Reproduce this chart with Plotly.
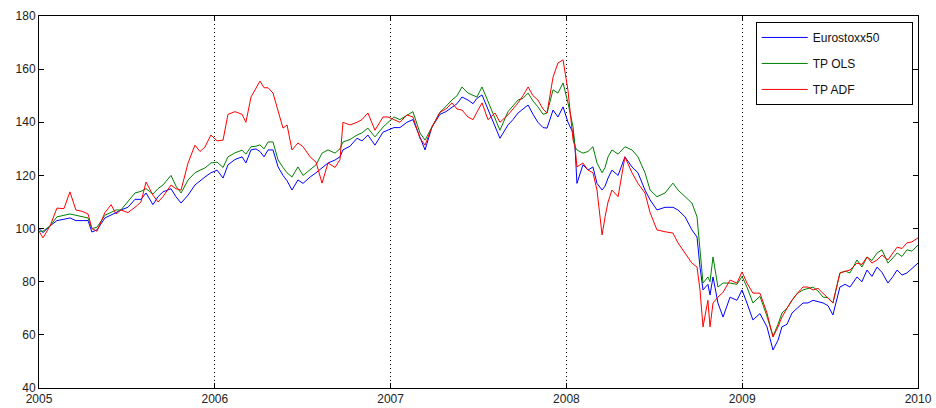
import plotly.graph_objects as go

# Time axis in decimal years
t = [2005.000, 2005.023, 2005.063, 2005.102, 2005.142, 2005.176, 2005.210, 2005.245, 2005.279, 2005.301,
     2005.330, 2005.375, 2005.410, 2005.438, 2005.466, 2005.506, 2005.546, 2005.580, 2005.609, 2005.648,
     2005.677, 2005.705, 2005.751, 2005.779, 2005.808, 2005.848, 2005.887, 2005.916, 2005.944, 2005.978,
     2006.013, 2006.047, 2006.075, 2006.115, 2006.155, 2006.177, 2006.206, 2006.234, 2006.257, 2006.280,
     2006.303, 2006.331, 2006.360, 2006.388, 2006.411, 2006.439, 2006.473, 2006.502, 2006.542, 2006.576,
     2006.610, 2006.644, 2006.684, 2006.712, 2006.729, 2006.769, 2006.809, 2006.837, 2006.871, 2006.911,
     2006.957, 2006.985, 2007.019, 2007.053, 2007.093, 2007.127, 2007.167, 2007.196, 2007.235, 2007.281,
     2007.315, 2007.349, 2007.378, 2007.406, 2007.440, 2007.469, 2007.491, 2007.520, 2007.554, 2007.594,
     2007.622, 2007.668, 2007.696, 2007.725, 2007.753, 2007.782, 2007.810, 2007.838, 2007.867, 2007.890,
     2007.924, 2007.952, 2007.981, 2008.009, 2008.038, 2008.049, 2008.060, 2008.094, 2008.123, 2008.151,
     2008.174, 2008.203, 2008.220, 2008.237, 2008.259, 2008.294, 2008.333, 2008.373, 2008.407, 2008.447,
     2008.476, 2008.515, 2008.561, 2008.606, 2008.635, 2008.675, 2008.714, 2008.743, 2008.760, 2008.777,
     2008.805, 2008.817, 2008.834, 2008.862, 2008.891, 2008.931, 2008.970, 2008.999, 2009.027, 2009.061,
     2009.101, 2009.141, 2009.175, 2009.204, 2009.226, 2009.255, 2009.283, 2009.312, 2009.346, 2009.374,
     2009.403, 2009.431, 2009.460, 2009.488, 2009.516, 2009.556, 2009.585, 2009.613, 2009.653, 2009.681,
     2009.710, 2009.738, 2009.767, 2009.795, 2009.829, 2009.858, 2009.881, 2009.909, 2009.937, 2009.966,
     2010.000]

eurostoxx50 = [100, 98.5, 101, 103, 103.5, 104, 103, 103, 103, 98.7,
               99.5, 104, 105, 106, 107, 108, 111, 111, 113.4, 109,
               112, 113.8, 115, 112, 109.6, 112.6, 116.4, 118, 119.4, 121,
               122, 119, 124, 126, 127, 124.7, 129.6, 130, 129, 127,
               129.6, 129.6, 123.2, 120, 118, 114.5, 118.3, 117, 119.4, 121,
               123, 124.7, 125.8, 127, 129.6, 131, 134, 133, 135.2, 131.4,
               136.3, 137, 138, 138, 140, 141, 134, 129.6, 138.2, 143,
               144, 145.8, 147, 149.5, 148.4, 147, 149, 150.3, 145, 139,
               134, 139, 141, 143.5, 145, 146.5, 143, 140, 138, 137.8,
               144.6, 142, 145.8, 140, 136, 130.8, 117, 124, 122, 123.2,
               117, 114.5, 116, 119, 122, 120, 127, 123.2, 121, 114.5,
               110.8, 107, 108, 108, 107, 104.4, 99.5, 96.8, 85.5, 76.9,
               79, 75, 81.8, 72, 66.7, 74.2, 73, 76.9, 72, 65.6,
               68, 63, 54.3, 58, 63, 64, 68.2, 70, 72, 72,
               73, 72.5, 72, 71, 67.5, 78, 79, 78, 81.8, 80,
               84.4, 82, 85.5, 83.5, 79.5, 82, 84.4, 82.5, 83.3, 85,
               87]

tp_ols = [99, 99, 101, 104.4, 105, 105.5, 105, 104.5, 104, 100,
          100.5, 105, 106, 107, 107, 110, 113.4, 114, 115, 113,
          115, 116.4, 120, 116, 113.4, 118.3, 121, 122, 122.8, 124.7,
          125, 123, 127, 128.5, 129.5, 128, 130.8, 131, 131.5, 130,
          132.6, 132.6, 125.8, 123, 121, 119.4, 123.2, 120, 122, 124,
          128.4, 129.6, 128.4, 130, 132.6, 133.5, 135.2, 136, 137.8, 134.5,
          138.2, 140, 142, 141, 142.5, 144, 136, 133.3, 138.2, 143.8,
          146, 148.4, 150, 153.3, 151, 150, 149.5, 153.3, 148, 141.6,
          137, 144, 146, 148.4, 149, 151, 148, 145.8, 143, 143.5,
          152.2, 151, 154.8, 147.3, 138.2, 130.8, 129.6, 128.4, 129, 130.8,
          124.7, 121, 123, 127, 129.6, 128, 130.8, 129.6, 127, 121,
          114.5, 112, 113.4, 117.1, 114.5, 112, 109.6, 104.4, 92, 79.5,
          81.8, 80, 89.3, 78, 79.5, 79.5, 79, 82, 78, 72,
          74.5, 67, 59.5, 64, 68.2, 70, 73, 75.5, 76.9, 77.5,
          78, 76.5, 74.2, 74, 72, 83.3, 84, 83.3, 88.2, 85.5,
          89.3, 88, 90.8, 92, 87, 89, 90.8, 89.5, 92, 91.5,
          93.8]

tp_adf = [99, 96.5, 101, 107.7, 107.5, 113.8, 107, 106.5, 105.5, 100,
          99, 106, 109, 105.5, 107, 106, 108, 110, 117.5, 112.6,
          110, 112, 116.4, 115, 114.5, 124.7, 131.4, 129, 130.7, 135.2,
          133, 133.3, 143, 144, 143, 140, 149.5, 153, 155.5, 153,
          153, 151, 144.6, 137.8, 139, 129.6, 132.2, 130.8, 127, 125,
          117.1, 124.7, 123, 126, 140, 139, 140, 141, 143.5, 137,
          142, 142, 141, 140, 142.8, 142, 134, 131.4, 138.2, 143.8,
          145, 147.3, 145, 144.6, 142, 141, 143.8, 147.3, 141, 143.5,
          140, 142.8, 145, 147.3, 150, 153.3, 150, 148.4, 145, 143.5,
          157, 162.3, 163.5, 152, 133.3, 130.8, 123.2, 124.7, 122, 121,
          114.5, 97.6, 104.4, 110, 114.5, 112, 127, 121, 117, 113.4,
          106, 99.5, 98.8, 98.3, 94.6, 90.8, 87, 85.5, 76.9, 63,
          73, 63, 72, 74.2, 76, 80.6, 79.5, 83.7, 79.5, 75.7,
          75.7, 68.2, 59.2, 63, 66.7, 70, 73, 75.5, 78, 78,
          76.9, 77.5, 75.7, 74, 72, 83.3, 84, 84.4, 87, 86.5,
          89.3, 87, 88.2, 90, 88.2, 91, 93, 92.5, 94.6, 95,
          96.5]

series_names = ["Eurostoxx50", "TP OLS", "TP ADF"]
series_colors = ["#0000ff", "#008000", "#ff0000"]
x_ticks = [2005, 2006, 2007, 2008, 2009, 2010]
y_ticks = [40, 60, 80, 100, 120, 140, 160, 180]

pad = "\u00a0" * 8  # keeps the legend box as wide as in the original

fig = go.Figure()
for i, (name, vals, col) in enumerate(zip(series_names, [eurostoxx50, tp_ols, tp_adf], series_colors)):
    fig.add_trace(go.Scatter(x=t, y=vals, mode="lines", name=name + pad,
                             legendgroup=f"g{i}",
                             line=dict(color=col, width=1)))

axis_font = dict(family="Liberation Sans, Arial, sans-serif", size=12, color="#222222")

fig.update_layout(
    width=936, height=408,
    margin=dict(l=39, r=18, t=16, b=20),
    paper_bgcolor="white", plot_bgcolor="white",
    showlegend=True,
    legend=dict(
        x=0.994, y=0.984, xanchor="right", yanchor="top",
        bgcolor="white", bordercolor="black", borderwidth=1,
        font=dict(family="Liberation Sans, Arial, sans-serif", size=12, color="#111111"),
        tracegroupgap=7,
        itemwidth=46,
    ),
    xaxis=dict(
        range=[2005, 2010], tickvals=x_ticks, ticktext=[str(v) for v in x_ticks],
        showline=True, linecolor="black", linewidth=1, mirror="ticks",
        ticks="inside", ticklen=5, tickcolor="black",
        showgrid=True, gridcolor="black", griddash="1px,3px", gridwidth=1,
        zeroline=False, tickfont=axis_font, automargin=False,
    ),
    yaxis=dict(
        range=[40, 180], tickvals=y_ticks,
        showline=True, linecolor="black", linewidth=1, mirror="ticks",
        ticks="inside", ticklen=5, tickcolor="black",
        showgrid=False, zeroline=False, tickfont=axis_font, automargin=False,
    ),
)

fig.write_html("out.html")
